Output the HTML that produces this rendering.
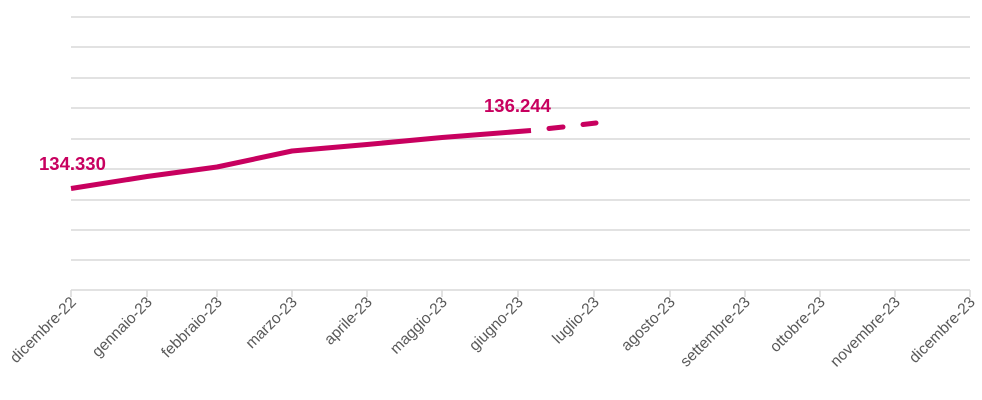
<!DOCTYPE html>
<html><head><style>body{margin:0;background:#fff}svg{display:block}</style></head><body>
<svg width="982" height="400" xmlns="http://www.w3.org/2000/svg" font-family="Liberation Sans, sans-serif">
<g stroke="#d9d9d9" stroke-width="1.5">
<line x1="71" x2="970" y1="17" y2="17"/><line x1="71" x2="970" y1="47" y2="47"/>
<line x1="71" x2="970" y1="78" y2="78"/><line x1="71" x2="970" y1="108" y2="108"/>
<line x1="71" x2="970" y1="139" y2="139"/><line x1="71" x2="970" y1="169" y2="169"/>
<line x1="71" x2="970" y1="200" y2="200"/><line x1="71" x2="970" y1="230" y2="230"/>
<line x1="71" x2="970" y1="260" y2="260"/><line x1="71" x2="970" y1="290" y2="290"/>
<line x1="71" x2="71" y1="290" y2="297"/><line x1="147" x2="147" y1="290" y2="297"/>
<line x1="217" x2="217" y1="290" y2="297"/><line x1="292" x2="292" y1="290" y2="297"/>
<line x1="367" x2="367" y1="290" y2="297"/><line x1="442" x2="442" y1="290" y2="297"/>
<line x1="518" x2="518" y1="290" y2="297"/><line x1="594" x2="594" y1="290" y2="297"/>
<line x1="670" x2="670" y1="290" y2="297"/><line x1="745" x2="745" y1="290" y2="297"/>
<line x1="820" x2="820" y1="290" y2="297"/><line x1="895" x2="895" y1="290" y2="297"/>
<line x1="970" x2="970" y1="290" y2="297"/>
</g>
<polyline fill="none" stroke="#c8005f" stroke-width="5" stroke-linejoin="round" points="71,188.5 147,176.5 217,167 292,151 367,144.5 442,137.5 531,130.5"/>
<line x1="549" y1="128.5" x2="563" y2="127" stroke="#c8005f" stroke-width="5" stroke-linecap="round"/>
<line x1="583" y1="124.5" x2="596" y2="123" stroke="#c8005f" stroke-width="5" stroke-linecap="round"/>
<g fill="#c8005f" font-weight="bold" font-size="18.5">
<text x="39" y="170">134.330</text><text x="484" y="112">136.244</text>
</g>
<g fill="#595959" font-size="15.5" text-anchor="end">
<text transform="translate(77,303) rotate(-45)">dicembre-22</text>
<text transform="translate(153,303) rotate(-45)">gennaio-23</text>
<text transform="translate(223,303) rotate(-45)">febbraio-23</text>
<text transform="translate(298,303) rotate(-45)">marzo-23</text>
<text transform="translate(373,303) rotate(-45)">aprile-23</text>
<text transform="translate(448,303) rotate(-45)">maggio-23</text>
<text transform="translate(524,303) rotate(-45)">giugno-23</text>
<text transform="translate(600,303) rotate(-45)">luglio-23</text>
<text transform="translate(676,303) rotate(-45)">agosto-23</text>
<text transform="translate(751,303) rotate(-45)">settembre-23</text>
<text transform="translate(826,303) rotate(-45)">ottobre-23</text>
<text transform="translate(901,303) rotate(-45)">novembre-23</text>
<text transform="translate(976,303) rotate(-45)">dicembre-23</text>
</g>
</svg>
</body></html>
